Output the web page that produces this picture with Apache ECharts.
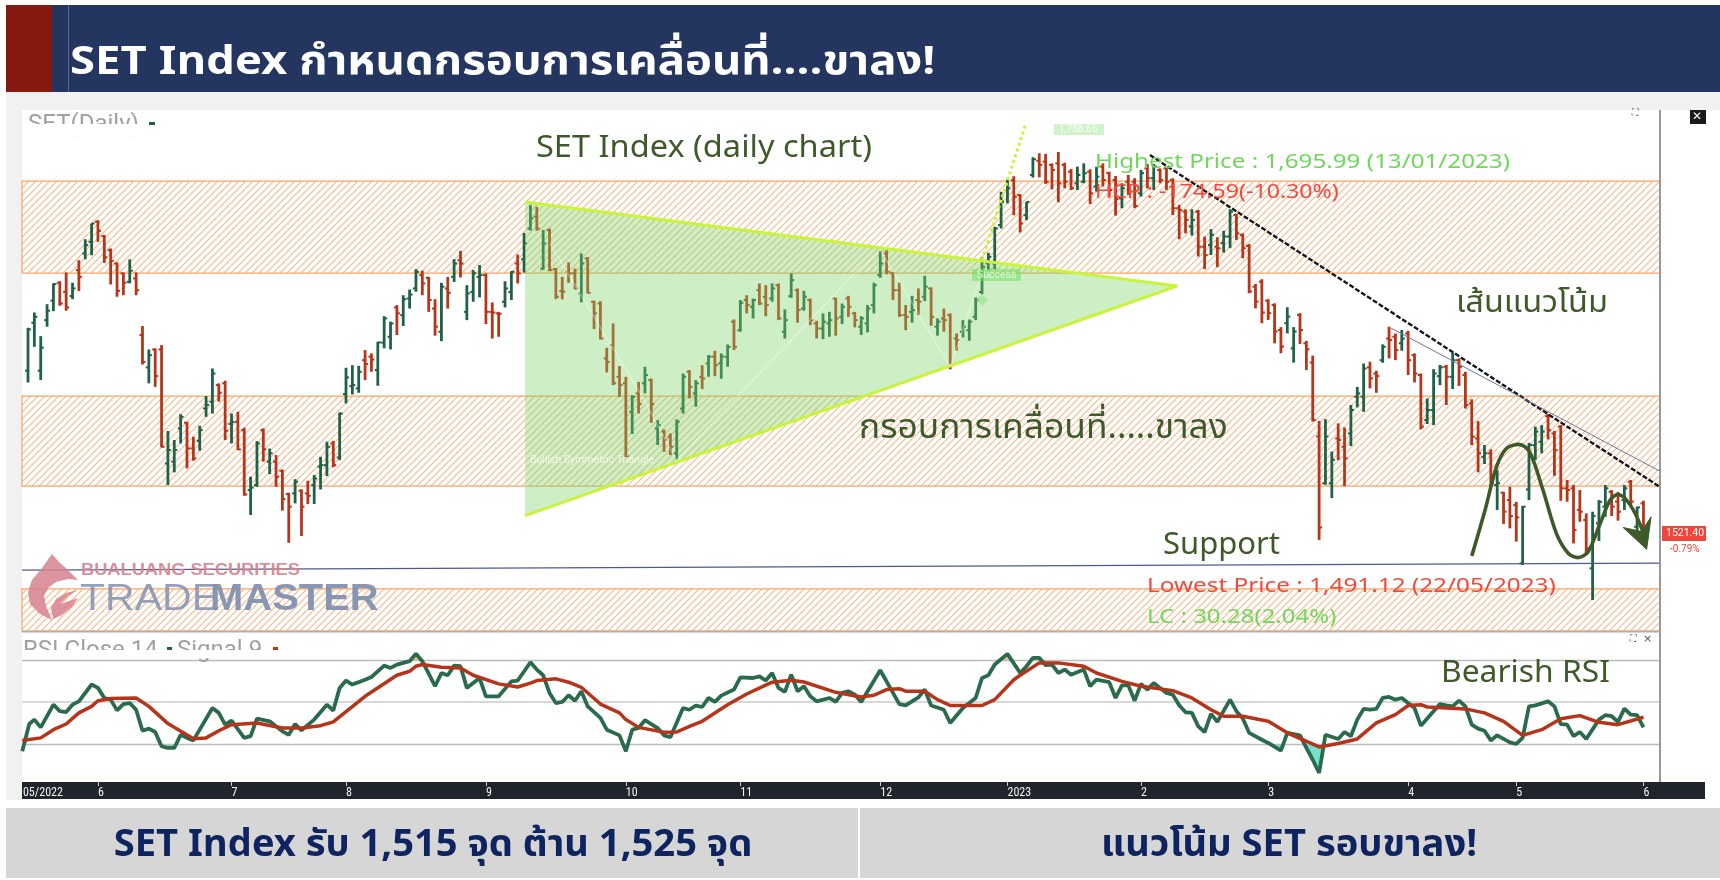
<!DOCTYPE html>
<html><head><meta charset="utf-8"><style>html,body{margin:0;padding:0;background:#fff}#c{width:1720px;height:880px}</style>
<script src="https://cdn.jsdelivr.net/npm/echarts@6/dist/echarts.min.js"></script></head><body><div id="c"></div><script>
const opens=[1596,1617.9,1596,1619.1,1628,1636.2,1632,1630.1,1642,1649.6,1654.9,1664.1,1657.5,1651.1,1645,1640.5,1636.6,1638.2,1612.3,1597.5,1605.7,1605.7,1553.6,1554.4,1569.6,1572.2,1560.4,1563.9,1578.7,1581.8,1589.4,1590.2,1571.6,1572.6,1568.8,1541.4,1543.7,1568.8,1554.4,1554.4,1550.2,1539.6,1539.9,1541.1,1539.9,1543.7,1552.1,1552.8,1562.7,1556.3,1585.3,1588.9,1587.9,1600.8,1602.4,1596.3,1608.8,1611.5,1624.9,1621.4,1629,1633.6,1639.7,1638.5,1624.4,1613.8,1633.6,1638.9,1646.5,1622.9,1632,1638.9,1639.7,1622.9,1622.2,1627.5,1632,1645,1646.9,1661,1666.4,1642.7,1660.3,1642.4,1632.4,1641.2,1640.5,1631.3,1647.3,1627.5,1626.7,1601.6,1607.7,1593.2,1590.2,1577.2,1585.6,1590.2,1591.7,1569.6,1568.1,1565.8,1558.2,1578.7,1595.5,1585.6,1593.2,1599.3,1602.4,1599.3,1602.4,1618.4,1614.5,1628.3,1625.2,1632.8,1629.8,1629,1635.1,1613.8,1630.1,1632.8,1624.4,1628.3,1617.6,1615.3,1617.6,1629,1620.6,1629,1622.2,1616.1,1617.6,1626,1639.7,1649.6,1640.5,1632.8,1621.4,1622.9,1628.3,1629.8,1633.6,1616.1,1619.9,1621.4,1610.7,1613.8,1614.5,1620.6,1632,1645,1645,1662.6,1678.6,1683.1,1676.3,1667.1,1685.5,1692,1691.6,1690.1,1690.8,1690.1,1687,1681.7,1682.4,1687,1680.2,1689.3,1686.3,1683.2,1674.8,1682.4,1682.4,1677.1,1688.5,1684,1687.8,1688.5,1683.2,1670.3,1668.7,1661.9,1668.7,1652.7,1653.5,1652.7,1654.3,1657.3,1667.2,1658.1,1653,1634.4,1636.7,1628,1626,1614.6,1617.7,1606.2,1621.5,1608.5,1599.7,1565.9,1544.5,1544.5,1565,1561.2,1567.3,1584.1,1584.1,1597.5,1594.7,1600.8,1610.7,1611.5,1608.5,1613,1603.1,1594,1573.4,1578,1593.5,1597.8,1593.2,1600.8,1594,1581,1565,1556.6,1558.2,1543.7,1540.2,1536.8,1534.5,1507.9,1541.7,1562,1563.5,1575.2,1567.3,1570.4,1542.2,1542.2,1532.3,1527.7,1505.6,1526.2,1533.8,1540.6,1536.1,1536.8,1545.2,1524.6,1535.3];
const highs=[1615.6,1622.6,1611.8,1626.4,1635.9,1636.9,1640.9,1636.2,1646.5,1656.1,1663.3,1664.8,1658,1651.9,1645.5,1640.9,1646.9,1640.9,1616.4,1605.7,1606.2,1607.7,1568.4,1564.3,1576.1,1572.6,1565.8,1570.8,1584.4,1597,1590.2,1591.4,1576.4,1577.2,1569.9,1547.5,1563.8,1569.6,1560.4,1557.4,1550.8,1540.2,1546.4,1541.7,1545.7,1548.3,1556.6,1563.5,1563.9,1576.9,1597.3,1598.5,1598.2,1605.4,1603.9,1609.2,1620.9,1618.4,1626,1630.5,1633.1,1642.4,1641.7,1638.9,1628.7,1636.2,1638.9,1647,1650.8,1635.1,1642,1644.3,1640.5,1627.2,1622.9,1636.9,1641.5,1649.1,1659,1671.7,1670.9,1660.3,1661,1643,1638.9,1645.5,1642.7,1649.6,1648,1628,1627.8,1606.5,1617.6,1598.1,1593.2,1584.8,1590.9,1597.8,1592.4,1573.4,1569.1,1567.3,1573.7,1594.7,1596.3,1591.7,1598.5,1603.1,1605.1,1603.9,1608,1619.4,1628.3,1630.5,1629,1635.9,1635.1,1635.9,1635.9,1624,1640.5,1633.6,1632.5,1629,1618.8,1622.2,1622.9,1629.3,1626.7,1630.2,1622.9,1620.9,1626,1636.2,1650.8,1651.1,1641.2,1636.3,1626,1630.2,1633.6,1639.4,1634.1,1619.9,1624.4,1622.2,1613,1619.1,1619.4,1629.5,1648,1649.9,1661.8,1677.8,1683.4,1684.9,1676.7,1673.2,1693.6,1695.4,1695.1,1690.8,1695.99,1691.1,1688.2,1689.3,1690.8,1688.1,1689.3,1690.8,1687,1685,1681.7,1685.5,1684,1687.8,1690.5,1690.5,1688.5,1689.3,1684,1671.8,1669.8,1669.8,1669.5,1657.3,1660.7,1657,1660,1669.8,1667.7,1658.8,1653.9,1635.7,1637.8,1628.7,1626.8,1615.9,1625,1615.9,1622.3,1609.6,1602.9,1573,1573.8,1559,1571.9,1570,1580.3,1588.6,1599.3,1600.1,1596,1608,1616.1,1613,1614.6,1614.2,1603.9,1594.7,1583.3,1596.7,1598.6,1598.6,1604.2,1601.6,1595.5,1582.9,1572.9,1562,1560,1550.5,1540.6,1542.9,1536,1534.1,1563,1570.4,1571.1,1576.2,1568.5,1571.1,1546,1543.7,1541.4,1530.7,1531.5,1536.8,1543.7,1541.4,1540.6,1543.7,1546,1533.8,1536.5];
const lows=[1590.6,1606.9,1591.7,1616.1,1623.2,1625.7,1623.4,1628.7,1632.4,1646.9,1648.8,1654.9,1645.3,1635.4,1629.8,1630.5,1635.9,1630.5,1598.8,1590.2,1588.6,1560.9,1543.7,1549.5,1562.7,1551.3,1554.8,1559.4,1574.9,1576.4,1581.8,1564.3,1562.7,1559.7,1538.8,1530,1542.9,1554.4,1548.7,1542.9,1532,1517.3,1535.3,1520.4,1535,1535,1541.7,1547.8,1551.8,1555.1,1581,1585.1,1585.9,1591.7,1595.5,1589.1,1606.2,1605.7,1612.3,1616.4,1624.4,1632.1,1630.5,1622.9,1612,1609.5,1624.4,1636.6,1638.6,1619.1,1627.5,1629.5,1617.3,1610.7,1611.5,1624.9,1628.3,1635.9,1640.9,1660,1660,1642,1641.5,1628.7,1628.6,1636.2,1633.1,1627.2,1631.3,1615,1610.3,1595.2,1589.4,1584,1556.3,1567,1576.4,1585.6,1572.2,1562,1558.9,1557.4,1555.4,1576.4,1583.3,1579.5,1587.6,1593.2,1593.5,1592.3,1597.8,1605.4,1613.8,1622.2,1619.9,1626,1620.9,1627.5,1619.1,1610.7,1629.3,1617.9,1623.4,1616.8,1610.7,1610.4,1611.5,1612,1617.3,1620.6,1615.8,1612.3,1613.5,1622.2,1638.5,1640.1,1628.3,1620.6,1614.5,1617.9,1621.4,1627.8,1616.5,1612,1613.8,1596.6,1605.1,1611.2,1609.7,1619.1,1631,1642,1642.3,1661,1672.5,1667.1,1659.2,1664.8,1684.3,1684.4,1681.4,1678.9,1673,1679.4,1678.6,1678.6,1681.7,1672.2,1677.9,1680.2,1675.6,1666.9,1670.3,1676.4,1670.3,1675.6,1679.4,1678.6,1681.7,1678.6,1667.2,1656.1,1658.8,1657.8,1648.2,1642.4,1648.9,1643.3,1650,1652,1655.8,1647.4,1631.4,1624.5,1617.7,1619.2,1608.5,1604,1613.1,1599.7,1608.2,1596.3,1572.7,1518.6,1543.8,1537.7,1555.1,1543.2,1561.5,1579.2,1577.2,1587.9,1585.9,1599.6,1601.6,1600.8,1605.1,1594,1590.6,1569.1,1571.6,1571.1,1589.4,1580.3,1587.6,1589,1578.7,1562,1549.5,1553.3,1543.7,1532.3,1525.9,1523.9,1517.8,1507.1,1536.8,1555.1,1558.2,1564.6,1547.9,1536.5,1536.1,1517,1526.9,1512.4,1491.12,1518.1,1529.2,1529.5,1527.4,1532.3,1534.5,1522.4,1521];
const closes=[1614.9,1620.6,1606.5,1623.4,1635.6,1626.7,1624.9,1633.6,1638.9,1653.4,1663.3,1659.9,1647.8,1646.2,1632.5,1636.2,1641.7,1632.8,1600,1603.1,1593.5,1561.2,1559.7,1559.7,1574.9,1560.4,1555.9,1568.8,1580.3,1594.7,1585.9,1568.5,1572.6,1560,1539.4,1542.5,1562.7,1560,1558.2,1547.5,1537.3,1533.8,1545.2,1533.8,1538.8,1546.7,1552.8,1561.2,1552.8,1576.4,1592.9,1589.4,1595.5,1599,1601.1,1608.9,1619.9,1617.6,1622.2,1628.7,1630.8,1641.2,1635.9,1628.3,1616.1,1634.4,1631.6,1645,1645,1631.3,1640.5,1639.7,1622.9,1622.6,1622,1633.6,1641.2,1640.5,1654.2,1665.6,1661,1654.2,1642,1629.8,1632.1,1640.5,1633.6,1645,1631.6,1622.2,1610.7,1600,1590.2,1589.4,1556.9,1584,1580.7,1594,1580.7,1571.1,1564.3,1561.2,1572.6,1593.2,1588.6,1590.2,1592.4,1602.4,1598.5,1602.4,1606.9,1606.9,1627,1626,1628.3,1626.7,1626,1633.6,1619.9,1619.1,1637.4,1623.7,1629.8,1619.1,1615.3,1618.4,1619.1,1619.9,1625.2,1625.2,1619.1,1619.9,1624.4,1635.1,1645,1641.2,1632.8,1621.4,1620.6,1623.7,1627.5,1634.4,1620.6,1618.4,1619.1,1598.5,1610,1616.1,1618.4,1628.3,1643.5,1648,1661,1673.2,1679.3,1675.5,1663.3,1673.2,1692.7,1690.1,1682.4,1687.8,1681.7,1682.4,1679.4,1685.5,1686.3,1677.1,1684.7,1683.2,1678.6,1674.4,1679.4,1678.6,1671.3,1686.3,1684,1689.3,1683.2,1682.4,1670.3,1669.5,1664.9,1664.9,1652.7,1648.9,1658.1,1652,1657.3,1668.7,1658.8,1652,1632.2,1627.6,1622.6,1622.3,1613.9,1607,1620.7,1613.9,1614.6,1605.8,1573.5,1524.3,1565.9,1555.2,1564.3,1555.9,1578,1585.6,1597,1592.5,1593.5,1606.9,1610,1605.4,1610.7,1600.8,1594.7,1570.4,1578,1594.7,1597.5,1593.2,1600.8,1597.8,1580.3,1565.8,1558.2,1558.2,1544.5,1544.5,1531.5,1529.5,1528.9,1533.8,1562,1568.1,1568.1,1568.8,1559.7,1542.2,1541.4,1523.1,1531.5,1514.7,1529.5,1536,1542.2,1533.8,1531.5,1542.2,1536.1,1533.5,1521.4];

const rsiPoints=[[-0.9,26.5],[0.2,39.5],[1,41.6],[2,37.9],[4,48.7],[5,45.6],[6,45.2],[7,48.7],[8,50.3],[10,58.3],[11,56.7],[12,51.9],[13,51.1],[14,46],[15,49],[16,49.5],[17,46.3],[18,36.3],[19,37.3],[20,35.7],[21,28.9],[22,28.1],[23,28.1],[24,34.4],[25,32.9],[26,31.7],[29,47.1],[30,44.8],[31,39.2],[32,41.1],[34,32.9],[35,33.7],[36,42.1],[38,40.8],[40,36],[41,34.4],[42,39.5],[43,36.5],[45,41.6],[47,48.7],[48,45.9],[49,56.7],[50,60.2],[51,58.3],[53,60.6],[54,61.9],[56,67.3],[57,66.2],[58,67.8],[60,69.4],[61,72.9],[62,69.4],[64,57.5],[65,63.8],[66,62.7],[67,67.3],[68,67],[69,56.7],[71,61.4],[72,52.7],[74,52.7],[76,59.8],[77,60.2],[79,68.9],[80,65.4],[81,62.7],[82,54.3],[83,49.5],[84,50],[85,53.2],[86,50.6],[87,55.1],[88,47.9],[90,42.4],[91,36.8],[93,34.1],[94,26.5],[95,36.8],[96,37.6],[97,41.3],[99,37.6],[100,34.1],[101,33.2],[103,47.1],[104,46.3],[105,48.3],[106,47.6],[107,51.9],[108,50],[109,53],[111,55.9],[112,61.7],[114,61.4],[115,62.2],[116,60.2],[117,63.8],[118,56.7],[119,54.8],[120,63],[121,55.1],[122,57.5],[123,52.7],[124,50.3],[126,51.9],[127,50],[128,54.3],[129,55.1],[130,53.5],[131,50],[134,65.1],[137,49],[138,48.4],[140,52.2],[141,55.9],[142,48.3],[144,46.3],[145,40],[147,47.1],[149,51.9],[150,61.4],[151,62.7],[152,67.8],[154,72.9],[156,63.8],[157,67],[158,71],[159,71],[160,67.5],[161,67.8],[162,63.8],[163,65.4],[164,63],[166,65.4],[167,57.5],[168,60.6],[170,59.4],[171,51.9],[172,57.9],[173,57.9],[174,50.6],[175,58.6],[176,55.9],[177,59],[179,54.3],[180,53.5],[181,48.4],[182,45.1],[183,44.8],[184,38.4],[185,35.7],[186,44.3],[187,40.5],[189,51.1],[190,45.6],[191,42.1],[192,35.3],[194,32],[195,30.5],[197,26.8],[198,35.3],[200,34.1],[201,28.1],[202,22.5],[203,16.2],[204,34.4],[206,32.4],[207,35.7],[208,33.7],[209,41.6],[210,46.7],[211,46.3],[212,46.7],[213,51.9],[214,52.4],[215,51.1],[216,51.9],[218,47.1],[219,38.7],[220,42.1],[222,49],[223,48.4],[224,47.9],[225,50.6],[226,47.9],[227,39.2],[228,37.3],[229,36.3],[230,31.7],[231,34.1],[233,30.8],[234,30],[235,32.9],[236,47.9],[237,48.4],[239,50.3],[240,47.9],[241,39.5],[242,39.2],[243,33.7],[244,35.7],[245,32.4],[247,41.6],[248,43.7],[249,43.2],[250,40.5],[251,46.8],[252,44],[253,43.7],[254,37.9]];
const signalPoints=[[-0.9,31.7],[2,32.9],[4,36.8],[6,39.5],[8,44.8],[10,47.9],[11,50.6],[13,51.6],[17,51.9],[19,47.9],[22,39.7],[26,32.5],[28,32.9],[30,36.3],[32,39.2],[36,40],[40,37.6],[43,37.6],[46,38.7],[48,40.5],[53,52.7],[58,62.7],[60,64.6],[61,67],[62,67.8],[65,66.5],[68,66.2],[70,62.7],[74,58.6],[77,57.1],[79,59],[80,60.2],[83,61],[85,59.4],[87,57],[90,49],[93,44.8],[94,41.6],[96,37.9],[100,35.6],[102,35.7],[104,38.4],[106,40.8],[110,48.7],[113,53.8],[117,59.4],[120,60.3],[122,59.5],[127,54.6],[131,52.4],[133,53.2],[135,55.9],[137,56.3],[138,55.1],[141,55.1],[143,51.1],[145,48.3],[150,48.3],[152,51.1],[155,60.6],[156,62.7],[159,68.6],[162,68.6],[166,67],[168,63.8],[172,59.8],[175,57.5],[180,55.4],[183,51.9],[186,46.3],[188,43.2],[191,43.2],[195,40.8],[198,35.3],[203,28.6],[206,30.2],[209,32.4],[212,40],[215,44],[217,48.3],[219,48.7],[220,47.6],[226,46.7],[229,44.8],[232,40.8],[235,34.1],[238,36.8],[241,42],[244,43.5],[247,40.3],[250,39.2],[254,42.7]];
const rsiLevels=[70,50,30];
const bandEdges=[[1640.6,1682.7],[1543.2,1584.4],[1477,1496.2]];
const triangle=[[78.15,1673.1],[78.15,1529.7],[180.66,1634.7]];
const triangleEdges=[[78.15,1673.1],[180.66,1634.7],[78.15,1529.7]];
const zigzag=[[82,1654.2],[96,1587],[102,1555],[130,1640.5],[134,1651.1],[145,1597.8],[150,1640.5]];
const breakout=[[150,1646.6],[156.9,1709.2]];
const trendMain=[[176.4,1694.6],[256.6,1542.8]];
const trendThin=[[214.3,1615.5],[256.6,1550]];
const supportLine=[[-0.94,1504.8],[256.6,1508]];
const pathCurve=[[227,1511.2],[229.1,1532.3],[230.9,1552.1],[232.5,1560.5],[234.4,1562.3],[236.1,1558.9],[238.2,1541.4],[240.3,1521.6],[242.2,1512.4],[243.7,1510.5],[245.3,1513.2],[247.2,1526.2],[248.7,1536.5],[249.9,1539.4],[251.1,1537.6],[252.7,1530.7],[254.2,1520.1]];
const arrowHead=[[250.8,1524.3],[253.7,1522.4],[255.2,1529.2],[254.5,1514.3]];
const tickIndex=[-0.8,11,32,50,72,94,112,134,154,175,195,217,234,254];
const tickLabels=['05/2022','6','7','8','9','10','11','12','2023','2','3','4','5','6'];
const xMin=-0.943,xMax=256.6;

const FONT='"Noto Sans Thai","Kanit","Prompt","Noto Sans","DejaVu Sans",sans-serif';
const UI='Roboto,"Noto Sans",sans-serif';
const OLIVE='#3f5a2a',GREEN='#1f6246',RED='#b5361a',LIME='#c8f43c';

const hatch=document.createElement('canvas');hatch.width=7;hatch.height=7;
(()=>{const g=hatch.getContext('2d');g.fillStyle='#fff';g.fillRect(0,0,7,7);g.strokeStyle='#f5b685';g.lineWidth=1.1;
for(const d of [-7,0,7]){g.beginPath();g.moveTo(d,7);g.lineTo(d+7,0);g.stroke();}})();

const ohlc=opens.map((o,i)=>[i,o,highs[i],lows[i],closes[i]]);
function renderBar(p,api){
  const i=api.value(0),o=api.value(1),h=api.value(2),l=api.value(3),c=api.value(4);
  const col=c>o?GREEN:RED;const P=(v)=>api.coord([i,v]);
  const ph=P(h),pl=P(l),po=P(o),pc=P(c);
  return {type:'group',children:[
    {type:'line',shape:{x1:ph[0],y1:ph[1],x2:pl[0],y2:pl[1]},style:{stroke:col,lineWidth:2.8}},
    {type:'line',shape:{x1:po[0]-3,y1:po[1],x2:po[0],y2:po[1]},style:{stroke:col,lineWidth:2}},
    {type:'line',shape:{x1:pc[0],y1:pc[1],x2:pc[0]+3,y2:pc[1]},style:{stroke:col,lineWidth:2}}
  ]};
}
function renderPoly(pts,fill,stroke,w){return function(p,api){
  return {type:'polygon',shape:{points:pts.map(q=>api.coord(q))},style:{fill:fill,stroke:stroke,lineWidth:w||0,lineJoin:'miter'}};
};}
function renderRsiFill(p,api){
  const kids=[];
  const addRuns=(level,isOut,fill)=>{
    const yL=api.coord([0,level])[1];let run=null;
    for(let k=1;k<rsiPoints.length;k++){
      const a=rsiPoints[k],pa=api.coord(a);const out=isOut(a[1]);
      if(out){
        if(!run){run=[];const b=rsiPoints[k-1],pb=api.coord(b);const t=(level-b[1])/(a[1]-b[1]);run.push([pb[0]+t*(pa[0]-pb[0]),yL]);}
        run.push(pa);
      }else if(run){
        const b=rsiPoints[k-1],pb=api.coord(b);const t=(level-b[1])/(a[1]-b[1]);run.push([pb[0]+t*(pa[0]-pb[0]),yL]);
        kids.push({type:'polygon',shape:{points:run},style:{fill:fill}});run=null;
      }
    }
  };
  addRuns(30,v=>v<30,'#74e0cf');addRuns(70,v=>v>70,'#f4c48e');
  return {type:'group',children:kids};
}
const lineS=(data,color,width,extra)=>Object.assign({type:'line',data:data,symbol:'none',showSymbol:false,silent:true,animation:false,clip:true,lineStyle:{color:color,width:width},z:5},extra||{});

const T=(x,y,text,size,color,extra)=>{extra=extra||{};return {type:'text',x:x,y:y,scaleX:extra.sx||1,z:extra.z||50,silent:true,style:Object.assign({text:text,fontSize:size,fill:color,fontFamily:FONT,verticalAlign:'middle'},extra.style||{})};};
const R=(x,y,w,h,fill,z)=>({type:'rect',z:z==null?-5:z,silent:true,shape:{x:x,y:y,width:w,height:h},style:{fill:fill}});

const graphics=[
  R(6,5,46,87,'#861a10'),R(52,5,1668,87,'#24355f'),R(68,5,1,87,'#5a6a90',-4),
  R(6,92,1714,18,'#f1f1f1'),R(6,92,16,708,'#f1f1f1'),
  T(70,66,'SET Index กำหนดกรอบการเคลื่อนที่....ขาลง!',40,'#ffffff',{sx:1.137,style:{fontWeight:'bold'}}),
  R(22,782,1683,17,'#20242c'),
  R(1659,110,2,672,'#999999',20),R(22,631,1638,1.5,'#b0b0b0',20),
  T(28,125,'SET(Daily)',24,'#a0a0a0',{style:{fontFamily:UI}}),R(22,124,135,12,'#ffffff',51),R(149,122,6,3,'#1f6246',52),
  T(23,651,'RSI Close 14',24,'#a0a0a0',{style:{fontFamily:UI}}),T(177,651,'Signal 9',24,'#a0a0a0',{style:{fontFamily:UI}}),
  R(22,650,280,8,'#ffffff',51),R(167,647,5,3,'#1f6246',52),R(273,647,5,3,'#b5361a',52),
  T(536,151,'SET Index (daily chart)',31,OLIVE,{sx:1.05}),
  T(1095,164,'Highest Price : 1,695.99 (13/01/2023)',20.5,'#6fd85a',{sx:1.18}),
  T(1095,194,'HCP : -174.59(-10.30%)',20.5,'#f2493e',{sx:1.13}),
  T(1456,306,'เส้นแนวโน้ม',31,OLIVE,{sx:1.05}),
  T(859,431,'กรอบการเคลื่อนที่.....ขาลง',34,OLIVE,{sx:1.04}),
  T(1163,548,'Support',31,OLIVE),
  T(1147,588,'Lowest Price : 1,491.12 (22/05/2023)',20.5,'#f2493e',{sx:1.186}),
  T(1147,619,'LC : 30.28(2.04%)',20.5,'#6fd85a',{sx:1.17}),
  T(1441,676,'Bearish RSI',30,OLIVE,{sx:1.06}),
  T(530,460,'Bullish Symmetric Triangle',10.5,'rgba(255,255,255,0.7)',{style:{fontFamily:UI}}),
  R(972,269,49,12,'rgba(110,225,95,0.55)',30),T(977,275,'Success',10.5,'rgba(255,255,255,0.75)',{style:{fontFamily:UI}}),
  {type:'polygon',z:30,silent:true,shape:{points:[[982,294],[988,300],[982,306],[976,300]]},style:{fill:'rgba(130,225,120,0.45)'}},
  R(1054,124,50,11,'rgba(140,225,120,0.4)',30),T(1059,129.5,'1,788.65',10,'rgba(255,255,255,0.9)',{style:{fontFamily:UI}}),
  R(1662,526,44,15,'#f1443a',30),T(1666,533.5,'1521.40',10.5,'#ffffff',{style:{fontFamily:UI}}),
  T(1670,549,'-0.79%',10,'#f1443a',{style:{fontFamily:UI}}),
  R(1690,110,16,14,'#1a1a1a',30),T(1692,117,'✕',12,'#ffffff',{style:{fontFamily:'"DejaVu Sans"',fontWeight:'bold'}}),
  T(1632,113,'⛶',9,'#555555',{style:{fontFamily:'"DejaVu Sans"'}}),T(1630,639,'⛶',9,'#555555',{style:{fontFamily:'"DejaVu Sans"'}}),T(1643,639,'×',11,'#555555',{style:{fontFamily:'"DejaVu Sans"'}}),
  {type:'polygon',z:40,silent:true,style:{fill:'rgba(214,130,142,0.85)'},shape:{points:[[52,554],[42,568],[32,580],[28,592],[30,604],[40,614],[52,620],[46,606],[44,596],[48,588],[56,582],[68,579],[78,580],[68,570],[58,561]]}},
  {type:'polygon',z:40,silent:true,style:{fill:'rgba(214,130,142,0.85)'},shape:{points:[[53,619],[51,608],[56,599],[66,593],[78,590],[68,596],[60,604],[78,598],[72,607],[62,615]]}},
  T(81,571,'BUALUANG SECURITIES',16,'rgba(214,130,142,0.9)',{sx:1.14,style:{fontFamily:'"Liberation Sans"',fontWeight:'bold'}}),
  T(80,600,'TRADE',36,'rgba(130,145,175,0.85)',{sx:1.14,style:{fontFamily:'"Liberation Sans"'}}),
  T(210,600,'MASTER',36,'rgba(130,145,175,0.95)',{sx:1.11,style:{fontFamily:'"Liberation Sans"',fontWeight:'bold'}}),
  R(6,808,852,70,'#d6d6d6'),R(860,808,860,70,'#d6d6d6'),
  {type:'text',z:50,silent:true,x:433,y:849,scaleX:1.03,style:{text:'SET Index รับ 1,515 จุด ต้าน 1,525 จุด',fontSize:37,fontWeight:'bold',fill:'#0e2460',fontFamily:FONT,align:'center',verticalAlign:'middle'}},
  {type:'text',z:50,silent:true,x:1289,y:849,scaleX:1.03,style:{text:'แนวโน้ม SET รอบขาลง!',fontSize:37,fontWeight:'bold',fill:'#0e2460',fontFamily:FONT,align:'center',verticalAlign:'middle'}}
];

const labelFor=(v)=>{const k=tickIndex.indexOf(v);return k>=0?tickLabels[k]:'';};
const option={
  animation:false,backgroundColor:'#ffffff',
  grid:[{left:22,top:110,width:1638,height:521},{left:22,top:632,width:1638,height:150}],
  xAxis:[
    {type:'value',gridIndex:0,min:xMin,max:xMax,show:false,scale:true},
    {type:'value',gridIndex:1,min:xMin,max:xMax,scale:true,splitLine:{show:false},axisLine:{show:false},
      axisTick:{show:true,length:4,customValues:tickIndex.slice(1),lineStyle:{color:'#cfcfcf',width:1}},
      axisLabel:{show:true,customValues:tickIndex,formatter:labelFor,color:'#f2f2f2',fontSize:12,fontFamily:'"Roboto Condensed",Roboto,"Noto Sans",sans-serif',align:'left',margin:5,hideOverlap:false,showMinLabel:true,showMaxLabel:true}}
  ],
  yAxis:[
    {type:'value',gridIndex:0,min:1476.95,max:1715.2,show:false,scale:true},
    {type:'value',gridIndex:1,min:11.9,max:83.3,show:false,scale:true}
  ],
  series:[
    {type:'line',xAxisIndex:0,yAxisIndex:0,data:[],symbol:'none',silent:true,z:1,animation:false,
      markArea:{silent:true,z:1,itemStyle:{color:{image:hatch,repeat:'repeat'},borderColor:'#f7a566',borderWidth:1.2},label:{show:false},
        data:bandEdges.map(b=>[{yAxis:b[0]},{yAxis:b[1]}])}},
    {type:'custom',name:'SET',xAxisIndex:0,yAxisIndex:0,data:ohlc,renderItem:renderBar,encode:{x:0,y:[1,2,3,4]},z:3,silent:true,clip:true,animation:false},
    {type:'custom',xAxisIndex:0,yAxisIndex:0,data:[[78,1600]],renderItem:renderPoly(triangle,'rgba(126,212,104,0.38)','none',0),z:4,silent:true,animation:false},
    lineS(triangleEdges,LIME,3,{xAxisIndex:0,yAxisIndex:0,z:4}),
    lineS(zigzag,'rgba(255,255,255,0.3)',1.5,{xAxisIndex:0,yAxisIndex:0}),
    lineS(breakout,LIME,3,{xAxisIndex:0,yAxisIndex:0,lineStyle:{color:LIME,width:3,type:[3,3]}}),
    lineS(trendMain,'#14181f',2.4,{xAxisIndex:0,yAxisIndex:0,lineStyle:{color:'#14181f',width:2.4,type:[5,2]}}),
    lineS(trendThin,'#6b7896',1,{xAxisIndex:0,yAxisIndex:0}),
    lineS(supportLine,'#4d5c86',1.2,{xAxisIndex:0,yAxisIndex:0,z:6}),
    lineS(pathCurve,OLIVE,3.6,{xAxisIndex:0,yAxisIndex:0,smooth:0.3,z:7}),
    {type:'custom',xAxisIndex:0,yAxisIndex:0,data:[[254,1520]],renderItem:renderPoly(arrowHead,OLIVE,OLIVE,1),z:7,silent:true,animation:false},
    {type:'line',xAxisIndex:1,yAxisIndex:1,data:[],symbol:'none',silent:true,z:1,animation:false,
      markLine:{silent:true,symbol:'none',animation:false,label:{show:false},data:rsiLevels.map(v=>({yAxis:v,lineStyle:{color:v===50?'#d8d8d8':'#bcbcbc',width:v===50?2.2:1.4,type:'solid'}}))}},
    {type:'custom',xAxisIndex:1,yAxisIndex:1,data:[[0,50]],renderItem:renderRsiFill,z:2,silent:true,animation:false,clip:true},
    lineS(rsiPoints,'#2a6a4d',3.8,{xAxisIndex:1,yAxisIndex:1,name:'RSI'}),
    lineS(signalPoints,'#b6341a',3.5,{xAxisIndex:1,yAxisIndex:1,name:'Signal',z:6})
  ],
  graphic:{elements:graphics}
};
const chart=echarts.init(document.getElementById('c'),null,{renderer:'canvas',width:1720,height:880});
chart.setOption(option);
</script></body></html>
